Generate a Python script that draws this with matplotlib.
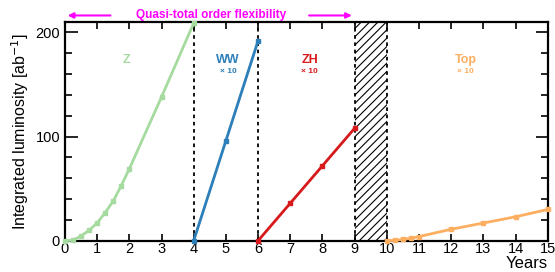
import matplotlib
matplotlib.use('Agg')
import matplotlib.pyplot as plt
from matplotlib.ticker import MultipleLocator

plt.rcParams['font.family'] = ['Liberation Sans', 'DejaVu Sans']
plt.rcParams['hatch.linewidth'] = 0.8

# data
z_years = [0, 0.25, 0.5, 0.75, 1.0, 1.25, 1.5, 1.75, 2.0, 3.0, 4.0]
z_lumi = [0, 0.5, 4.5, 10, 17, 27, 38, 53, 69, 138, 209]
ww_years = [4, 5, 6]
ww_lumi = [0, 96, 192]
zh_years = [6, 7, 8, 9]
zh_lumi = [0, 36, 72, 108]
top_years = [10, 10.25, 10.5, 10.75, 11, 12, 13, 14, 15]
top_lumi = [0, 0.3, 1.3, 2.3, 4, 11, 17, 23, 30]

boundaries = [4, 6, 9, 10]

col_z = '#a6dba0'
col_ww = '#2c7fb8'
col_zh = '#d7191c'
col_top = '#fdae61'
magenta = '#ff00ff'

fig = plt.figure(figsize=(5.55, 2.72), dpi=100)
ax = fig.add_axes([0.117, 0.115, 0.870, 0.804])

for xs, ys, c in [(z_years, z_lumi, col_z), (ww_years, ww_lumi, col_ww),
                  (zh_years, zh_lumi, col_zh), (top_years, top_lumi, col_top)]:
    ax.plot(xs, ys, color=c, lw=2, marker='s', ms=3, clip_on=False, zorder=3)

# shutdown period
ax.fill_between([9, 10], 0, 210, facecolor='none', edgecolor='black',
                hatch='////', lw=0, zorder=1)
for b in boundaries:
    ax.axvline(b, color='black', ls=(0, (2, 2)), lw=1.3, zorder=2)

# stage labels
ax.text(1.9, 174, 'Z', color=col_z, fontsize=9, fontweight='bold', ha='center', va='center')
labels = [(5.07, 'WW', col_ww), (7.6, 'ZH', col_zh), (12.45, 'Top', col_top)]
for x, t, c in labels:
    ax.text(x, 174, t, color=c, fontsize=9, fontweight='bold', ha='center', va='center')
    ax.text(x, 162.5, '× 10', color=c, fontsize=6, fontweight='bold', ha='center', va='center')

ax.set_xlim(0, 15)
ax.set_ylim(0, 210)
ax.xaxis.set_major_locator(MultipleLocator(1))
ax.yaxis.set_major_locator(MultipleLocator(100))
ax.yaxis.set_minor_locator(MultipleLocator(20))
ax.tick_params(which='both', direction='in', top=True, right=True, labelsize=10.5, width=1.2)
ax.tick_params(which='major', length=9)
ax.tick_params(which='minor', length=5)
ax.tick_params(axis='x', which='major', length=5, pad=1)
for s in ax.spines.values():
    s.set_linewidth(1.6)

ax.set_ylabel('Integrated luminosity [ab$^{-1}$]', fontsize=11.5, labelpad=3)
ax.set_xlabel('Years', fontsize=12, loc='right', labelpad=0)

# flexibility annotation above the plot
ax.annotate('', xy=(0.0, 1.03), xytext=(1.5, 1.03), xycoords=('data', 'axes fraction'),
            arrowprops=dict(arrowstyle='-|>', color=magenta, lw=1.5, mutation_scale=8),
            annotation_clip=False)
ax.annotate('', xy=(9.0, 1.03), xytext=(7.5, 1.03), xycoords=('data', 'axes fraction'),
            arrowprops=dict(arrowstyle='-|>', color=magenta, lw=1.5, mutation_scale=8),
            annotation_clip=False)
ax.text(4.55, 1.03, 'Quasi-total order flexibility', color=magenta, fontsize=8.5,
        fontweight='bold', ha='center', va='center', transform=ax.get_xaxis_transform())

fig.savefig('out.png', dpi=100)
